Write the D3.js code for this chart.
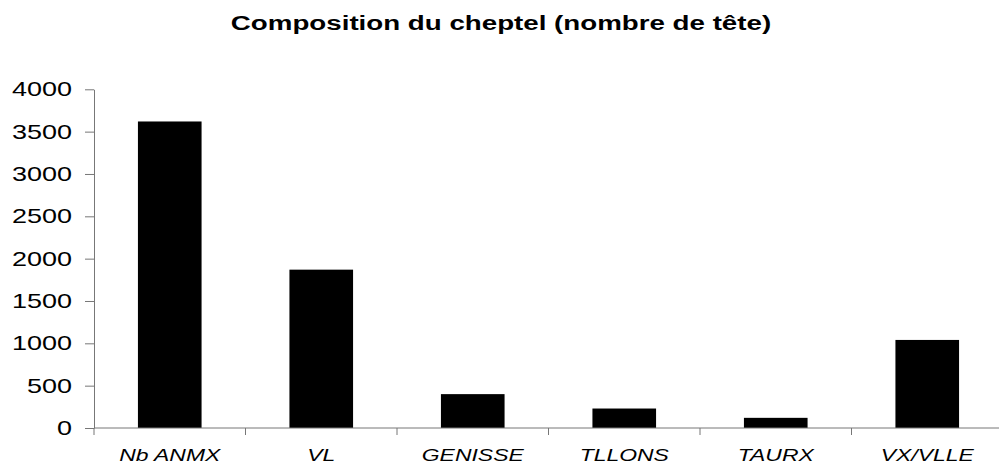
<!DOCTYPE html>
<html>
<head>
<meta charset="utf-8">
<script src="https://cdn.jsdelivr.net/npm/d3@7"></script>
<style>
  body { margin: 0; background: #fff; }
  text { font-family: "Liberation Sans", Arial, sans-serif; fill: #000; }
</style>
</head>
<body>
<script>
var categories = ['Nb ANMX', 'VL', 'GENISSE', 'TLLONS', 'TAURX', 'VX/VLLE'];
var values = [3620, 1870, 400, 230, 120, 1040];
var yTicks = [0, 500, 1000, 1500, 2000, 2500, 3000, 3500, 4000];
var title = 'Composition du cheptel (nombre de tête)';

var width = 999, height = 465;
var sx = 1.35; // le texte est étiré horizontalement

var svg = d3.select('body').append('svg')
  .attr('width', width).attr('height', height);

var x = d3.scaleBand()
  .domain(categories)
  .range([94, 1003])
  .paddingInner(0.58)
  .paddingOuter(0.29);

var y = d3.scaleLinear()
  .domain([0, 4000])
  .range([428, 89.3]);

// titre
svg.append('text')
  .attr('transform', 'translate(501,30) scale(1.32,1)')
  .attr('text-anchor', 'middle')
  .style('font-size', '21px')
  .style('font-weight', 'bold')
  .text(title);

// barres
svg.selectAll('rect.bar')
  .data(values)
  .enter()
  .append('rect')
  .attr('class', 'bar')
  .attr('x', function (d, i) { return x(categories[i]); })
  .attr('width', x.bandwidth())
  .attr('y', function (d) { return y(d); })
  .attr('height', function (d) { return y(0) - y(d); })
  .attr('fill', '#000');

// axe y
var gy = svg.append('g')
  .attr('transform', 'translate(94,0)')
  .call(d3.axisLeft(y).tickValues(yTicks).tickSize(9).tickSizeOuter(0).tickFormat(d3.format('d')));
gy.select('.domain').attr('stroke', '#777');
gy.selectAll('.tick line').attr('stroke', '#777');
gy.selectAll('.tick text')
  .attr('x', -22 / sx)
  .attr('transform', 'scale(' + sx + ',1)')
  .style('font-size', '20px');

// axe x : graduations entre les catégories
var edges = categories.map(function (c) { return x(c) - x.step() * x.paddingInner() / 2; });
edges.push(edges[edges.length - 1] + x.step());
svg.append('line')
  .attr('x1', 94).attr('x2', width)
  .attr('y1', y(0)).attr('y2', y(0))
  .attr('stroke', '#777');
svg.selectAll('line.xt')
  .data(edges)
  .enter()
  .append('line')
  .attr('class', 'xt')
  .attr('x1', function (d) { return d; }).attr('x2', function (d) { return d; })
  .attr('y1', y(0)).attr('y2', y(0) + 7)
  .attr('stroke', '#777');

svg.selectAll('text.xl')
  .data(categories)
  .enter()
  .append('text')
  .attr('class', 'xl')
  .attr('transform', function (d) {
    return 'translate(' + (x(d) + x.bandwidth() / 2) + ',461) scale(' + sx + ',1)';
  })
  .attr('text-anchor', 'middle')
  .style('font-size', '17px')
  .style('font-style', 'italic')
  .text(function (d) { return d; });
</script>
</body>
</html>
